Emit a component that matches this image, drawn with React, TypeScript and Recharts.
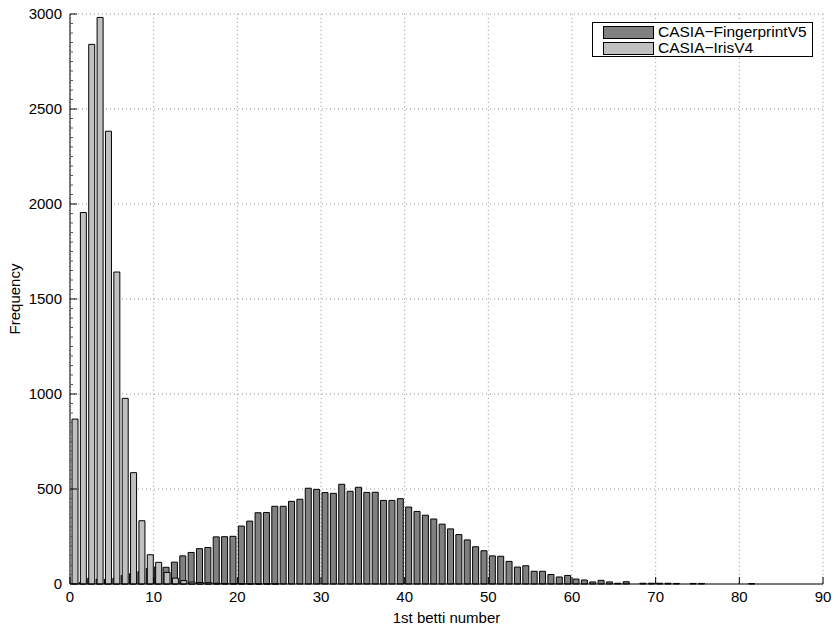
import { BarChart, Bar, XAxis, YAxis, CartesianGrid, Legend } from 'recharts';

// histogram bin centres (bin width 1)
const binCenters = [
  0.5, 1.5, 2.5, 3.5, 4.5, 5.5, 6.5, 7.5, 8.5, 9.5,
  10.5, 11.5, 12.5, 13.5, 14.5, 15.5, 16.5, 17.5, 18.5, 19.5,
  20.5, 21.5, 22.5, 23.5, 24.5, 25.5, 26.5, 27.5, 28.5, 29.5,
  30.5, 31.5, 32.5, 33.5, 34.5, 35.5, 36.5, 37.5, 38.5, 39.5,
  40.5, 41.5, 42.5, 43.5, 44.5, 45.5, 46.5, 47.5, 48.5, 49.5,
  50.5, 51.5, 52.5, 53.5, 54.5, 55.5, 56.5, 57.5, 58.5, 59.5,
  60.5, 61.5, 62.5, 63.5, 64.5, 65.5, 66.5, 67.5, 68.5, 69.5,
  70.5, 71.5, 72.5, 73.5, 74.5, 75.5, 76.5, 77.5, 78.5, 79.5,
  80.5, 81.5, 82.5, 83.5, 84.5, 85.5, 86.5, 87.5, 88.5, 89.5,
];

const fingerprint = [
  0, 8, 30, 25, 25, 30, 45, 55, 65, 82,
  90, 88, 115, 148, 166, 186, 192, 248, 249, 251,
  305, 331, 375, 376, 409, 409, 435, 446, 504, 498,
  481, 477, 525, 488, 509, 482, 483, 440, 440, 449,
  405, 382, 362, 342, 315, 290, 260, 232, 196, 175,
  148, 146, 119, 89, 96, 67, 67, 50, 37, 45,
  26, 21, 11, 19, 11, 4, 12, 0, 4, 4,
  4, 4, 3, 0, 3, 3, 0, 0, 0, 0,
  0, 2, 0, 0, 0, 0, 0, 0, 0, 0,
];

const iris = [
  868, 1955, 2840, 2982, 2383, 1642, 977, 586, 333, 154,
  114, 61, 31, 18, 10, 8, 7, 4, 3, 2,
  2, 1, 1, 1, 1, 0, 0, 0, 0, 0,
  0, 0, 0, 0, 0, 0, 0, 0, 0, 0,
  0, 0, 0, 0, 0, 0, 0, 0, 0, 0,
  0, 0, 0, 0, 0, 0, 0, 0, 0, 0,
  0, 0, 0, 0, 0, 0, 0, 0, 0, 0,
  0, 0, 0, 0, 0, 0, 0, 0, 0, 0,
  0, 0, 0, 0, 0, 0, 0, 0, 0, 0,
];

const xTicks = [0, 10, 20, 30, 40, 50, 60, 70, 80, 90];
const yTicks = [0, 500, 1000, 1500, 2000, 2500, 3000];
// major every 500, minor every 50
const allYTicks = Array.from({ length: 61 }, (_, i) => i * 50);

const data = binCenters.map((bin, i) => ({
  bin,
  fingerprint: fingerprint[i],
  iris: iris[i],
}));

const FONT = '"Liberation Sans", Arial, Helvetica, sans-serif';
const Y_TICK_MARGIN = 8; // gap between label end and axis line

function YTick({ x, y, payload }: any) {
  const major = payload.value % 500 === 0;
  const axisX = x + Y_TICK_MARGIN;
  return (
    <g>
      <line x1={axisX} x2={axisX + (major ? 7 : 3)} y1={y} y2={y} stroke={major ? '#000' : '#555'} />
      {major && (
        <text x={x} y={y} dy="0.355em" textAnchor="end" fontSize={15} fontFamily={FONT} fill="#000">
          {payload.value}
        </text>
      )}
    </g>
  );
}

function LegendBox({ payload }: any) {
  if (!payload) return null;
  return (
    <div
      style={{
        border: '1px solid #000',
        background: '#fff',
        padding: '1px 6px 0 10px',
        width: 203,
        fontFamily: FONT,
        fontSize: 15.5,
        color: '#000',
      }}
    >
      {payload.map((p: any) => (
        <div key={p.value} style={{ display: 'flex', alignItems: 'center', height: 16 }}>
          <div
            style={{
              width: 49,
              height: 11,
              border: '1px solid #000',
              background: p.color,
              marginRight: 4,
              flexShrink: 0,
            }}
          />
          <span style={{ lineHeight: '16px', whiteSpace: 'nowrap' }}>{p.value}</span>
        </div>
      ))}
    </div>
  );
}

export default function App() {
  return (
    <div style={{ position: 'absolute', left: 0, top: 0, width: 835, height: 629, background: '#fff', fontFamily: FONT }}>
      <BarChart
        width={835}
        height={629}
        data={data}
        margin={{ top: 14, right: 12, bottom: 15, left: 0 }}
        barGap={-5}
      >
        <CartesianGrid stroke="#999" strokeDasharray="1 3" horizontalValues={yTicks} verticalValues={xTicks} />
        <XAxis
          dataKey="bin"
          type="number"
          domain={[0, 90]}
          ticks={xTicks}
          interval={0}
          height={30}
          tickSize={-7}
          tickMargin={14}
          axisLine={{ stroke: '#000' }}
          tickLine={{ stroke: '#000' }}
          tick={{ fill: '#000', fontSize: 15, fontFamily: FONT }}
          label={{
            content: ({ viewBox }: any) => (
              <text
                x={viewBox.x + viewBox.width / 2}
                y={viewBox.y + 39}
                textAnchor="middle"
                fontSize={15}
                fontFamily={FONT}
                fill="#000"
              >
                1st betti number
              </text>
            ),
          }}
        />
        <YAxis
          type="number"
          width={70}
          domain={[0, 3000]}
          ticks={allYTicks}
          interval={0}
          tickSize={0}
          tickMargin={Y_TICK_MARGIN}
          axisLine={{ stroke: '#000' }}
          tickLine={false}
          tick={<YTick />}
          label={{
            content: ({ viewBox }: any) => {
              const cx = viewBox.x + 20;
              const cy = viewBox.y + viewBox.height / 2;
              return (
                <text
                  x={cx}
                  y={cy}
                  textAnchor="middle"
                  fontSize={15}
                  fontFamily={FONT}
                  fill="#000"
                  transform={`rotate(-90 ${cx} ${cy})`}
                >
                  Frequency
                </text>
              );
            },
          }}
        />
        <Legend
          layout="vertical"
          align="center"
          verticalAlign="middle"
          wrapperStyle={{ left: 592, top: 22, width: 'auto' }}
          content={<LegendBox />}
        />
        <Bar
          dataKey="fingerprint"
          name="CASIA−FingerprintV5"
          fill="#808080"
          stroke="#000"
          strokeWidth={1}
          barSize={6}
          isAnimationActive={false}
        />
        <Bar
          dataKey="iris"
          name="CASIA−IrisV4"
          fill="#c0c0c0"
          stroke="#000"
          strokeWidth={1}
          barSize={6}
          isAnimationActive={false}
        />
      </BarChart>
    </div>
  );
}
